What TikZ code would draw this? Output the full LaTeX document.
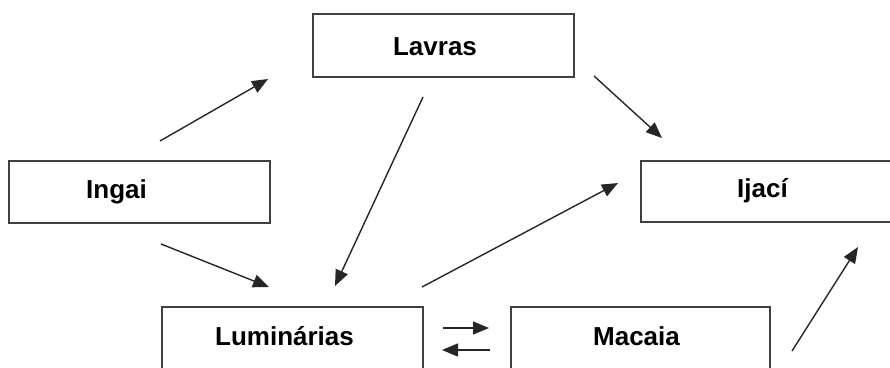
\documentclass[tikz,border=0pt]{standalone}
\usepackage{fontspec}
\setmainfont{Liberation Sans}
\usetikzlibrary{arrows.meta}
\tikzset{
  box/.style={draw=black!75, line width=2pt, rectangle, inner sep=0pt, fill=none},
  lbl/.style={anchor=base, inner sep=0pt, font=\fontsize{26}{30}\selectfont\bfseries, text=black},
  arr/.style={draw=black!85, line width=1.4pt, -{Triangle[length=16pt,width=13pt]}}
}
\begin{document}
\begin{tikzpicture}[x=1pt,y=-1pt]
\useasboundingbox (0,0) rectangle (890,367);
% boxes
\node[box, minimum width=261pt, minimum height=63pt] (lav) at (443.5,45.5) {};
\node[box, minimum width=261pt, minimum height=62pt] (ing) at (139.5,192) {};
\node[box, minimum width=261pt, minimum height=61pt] (ija) at (771.5,191.5) {};
\node[box, minimum width=261pt, minimum height=63pt] (lum) at (292.5,338.5) {};
\node[box, minimum width=259pt, minimum height=63pt] (mac) at (640.5,338.5) {};
% labels
\node[lbl] (lavT) at (435,55) {Lavras};
\node[lbl] (ingT) at (116.5,198) {Ingai};
\node[lbl] (ijaT) at (762.5,197) {Ijací};
\node[lbl] (lumT) at (284.5,345) {Luminárias};
\node[lbl] (macT) at (636.5,345) {Macaia};
% arrow end points
\coordinate (a1s) at (160,141);  \coordinate (a1e) at (268,79);
\coordinate (a2s) at (594,76);   \coordinate (a2e) at (662,138);
\coordinate (a3s) at (423,97);   \coordinate (a3e) at (335,286);
\coordinate (a4s) at (161,244);  \coordinate (a4e) at (269,287);
\coordinate (a5s) at (422,287);  \coordinate (a5e) at (618,183);
\coordinate (a6s) at (792,351);  \coordinate (a6e) at (858,247);
\coordinate (a7s) at (443,328);  \coordinate (a7e) at (489,328);
\coordinate (a8s) at (490,350);  \coordinate (a8e) at (442,350);
% arrows
\draw[arr] (a1s) -- (a1e);
\draw[arr] (a2s) -- (a2e);
\draw[arr] (a3s) -- (a3e);
\draw[arr] (a4s) -- (a4e);
\draw[arr] (a5s) -- (a5e);
\draw[arr] (a6s) -- (a6e);
\draw[arr] (a7s) -- (a7e);
\draw[arr] (a8s) -- (a8e);
\end{tikzpicture}
\end{document}
